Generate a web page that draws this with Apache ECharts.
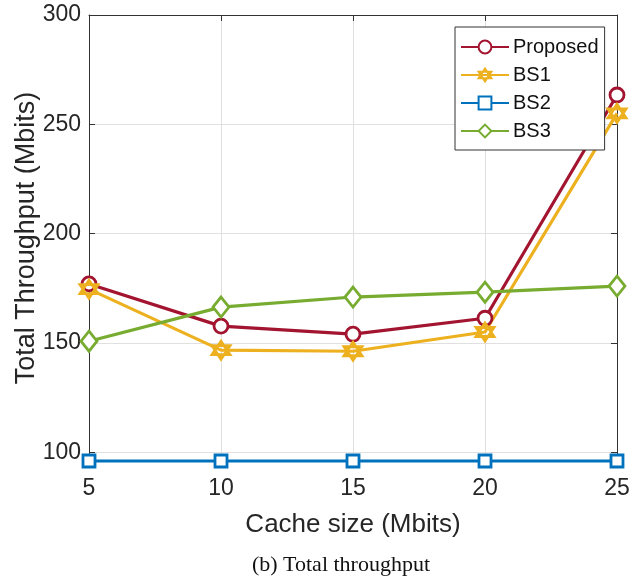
<!DOCTYPE html>
<html>
<head>
<meta charset="utf-8">
<script src="https://cdn.jsdelivr.net/npm/echarts@6/dist/echarts.min.js"></script>
<style>
  html, body { margin: 0; padding: 0; background: #fff; }
  #chart { width: 642px; height: 580px; }
</style>
</head>
<body>
<div id="chart"></div>
<script>
// Cache size on the x axis (Mbits)
const cacheSizes = [5, 10, 15, 20, 25];
// Total throughput per scheme (Mbits)
const proposed = [177, 157.7, 154, 161.3, 263.4];
const bs1 = [174.6, 146.7, 146.2, 155, 255];
const bs2 = [96, 96, 96, 96, 96];
const bs3 = [150.8, 166.4, 171, 173.2, 176];
const yTicks = [100, 150, 200, 250, 300];

const textColor = '#262626';
const sansFont = '"Liberation Sans"';
const hexagram = 'path://M0,-10L8.66,5L-8.66,5Z M0,10L8.66,-5L-8.66,-5Z';

function lineSeries(name, data, color, symbol, size, filled) {
  return {
    name: name,
    type: 'line',
    data: cacheSizes.map((x, i) => [x, data[i]]),
    symbol: symbol,
    symbolSize: size,
    showAllSymbol: true,
    clip: false,
    lineStyle: { color: color, width: 3.2 },
    itemStyle: { color: filled ? color : '#fff', borderColor: color, borderWidth: 2.8 },
    emphasis: { disabled: true },
    z: 3
  };
}

const chart = echarts.init(document.getElementById('chart'));
chart.setOption({
  animation: false,
  backgroundColor: '#fff',
  textStyle: { fontFamily: sansFont },
  grid: { left: 89, right: 25, top: 15, bottom: 119, containLabel: false, outerBoundsMode: 'none' },
  graphic: [{
    type: 'text',
    x: 341,
    y: 565,
    style: {
      text: '(b) Total throughput',
      font: '22px "Liberation Serif"',
      fill: '#111',
      align: 'center',
      verticalAlign: 'middle'
    }
  }],
  legend: {
    orient: 'vertical',
    left: 455,
    top: 27,
    padding: [10, 6, 9, 5],
    itemWidth: 48,
    itemHeight: 16,
    itemGap: 8,
    backgroundColor: '#fff',
    borderColor: '#333',
    borderWidth: 1,
    borderRadius: 0,
    textStyle: { fontSize: 20, color: '#111', fontFamily: sansFont, padding: [0, 0, 0, -1] },
    data: ['Proposed', 'BS1', 'BS2', 'BS3']
  },
  xAxis: [{
    type: 'value',
    min: 5, max: 25, interval: 5,
    name: 'Cache size (Mbits)',
    nameLocation: 'middle',
    nameGap: 51,
    nameMoveOverlap: false,
    nameTextStyle: { fontSize: 26, color: textColor, fontFamily: sansFont },
    axisLine: { show: true, onZero: false, lineStyle: { color: '#333', width: 1 } },
    axisTick: { inside: true, length: 6, lineStyle: { color: '#333' } },
    axisLabel: { fontSize: 23, color: textColor, margin: 16, fontFamily: sansFont },
    splitLine: { show: true, lineStyle: { color: '#e0e0e0', width: 1 } }
  }, {
    type: 'value',
    position: 'top',
    min: 5, max: 25, interval: 5,
    axisLine: { show: true, onZero: false, lineStyle: { color: '#333', width: 1 } },
    axisTick: { inside: true, length: 6, lineStyle: { color: '#333' } },
    axisLabel: { show: false },
    splitLine: { show: false }
  }],
  yAxis: [{
    type: 'value',
    min: 96, max: 300,
    name: 'Total Throughput (Mbits)',
    nameLocation: 'middle',
    nameGap: 49,
    nameMoveOverlap: false,
    nameTextStyle: { fontSize: 27, color: textColor, fontFamily: sansFont },
    axisLine: { show: true, onZero: false, lineStyle: { color: '#333', width: 1 } },
    axisTick: { inside: true, length: 6, lineStyle: { color: '#333' }, customValues: yTicks },
    axisLabel: { fontSize: 23, color: textColor, margin: 8, fontFamily: sansFont, customValues: yTicks },
    splitLine: { show: true, lineStyle: { color: '#e0e0e0', width: 1 } }
  }, {
    type: 'value',
    position: 'right',
    min: 96, max: 300,
    axisLine: { show: true, onZero: false, lineStyle: { color: '#333', width: 1 } },
    axisTick: { inside: true, length: 6, lineStyle: { color: '#333' }, customValues: yTicks },
    axisLabel: { show: false, customValues: yTicks },
    splitLine: { show: false }
  }],
  series: [
    lineSeries('Proposed', proposed, '#A2142F', 'circle', 14, false),
    lineSeries('BS1', bs1, '#EDB120', hexagram, 18, true),
    lineSeries('BS2', bs2, '#0072BD', 'rect', 12, false),
    lineSeries('BS3', bs3, '#77AC30', 'diamond', [16, 20], false)
  ]
});
</script>
</body>
</html>
